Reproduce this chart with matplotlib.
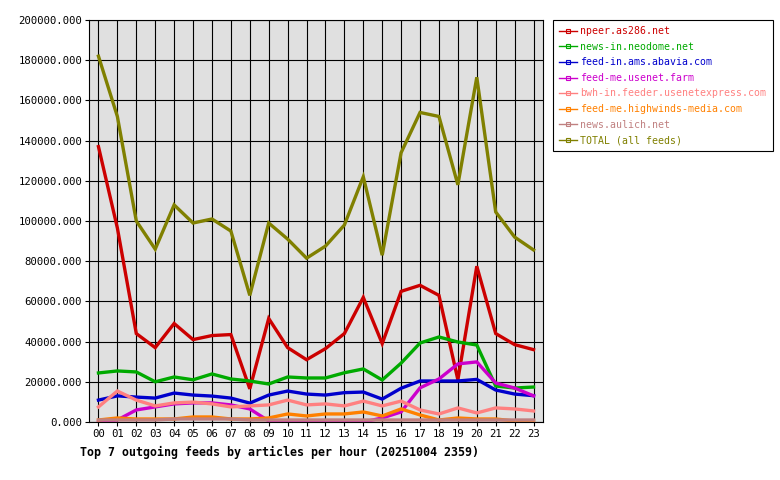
import matplotlib
matplotlib.use("Agg")
import matplotlib.pyplot as plt
import numpy as np

hours = ["%02d" % h for h in range(24)]

npeer = [137000, 96500, 44000, 37000, 49000, 41000, 43000, 43500, 16500, 51500, 37000, 31000,
         36500, 44000, 62000, 39000, 65000, 68000, 63000, 21000, 77500, 44000, 38500, 36000]
neodome = [24400, 25400, 24900, 20000, 22400, 21000, 23900, 21400, 20400, 18900, 22400, 21900,
           21900, 24500, 26400, 20900, 29300, 39300, 42300, 39800, 38300, 17900, 16900, 17400]
abavia = [10900, 13000, 12400, 11900, 14400, 13400, 12900, 11900, 9400, 13400, 15400, 13900,
          13400, 14600, 14900, 11400, 16800, 20400, 20400, 20400, 21200, 15900, 13900, 13100]
usenetfarm = [0, 1000, 6000, 7500, 9000, 9500, 9500, 8500, 6500, 500, 0, 0,
              0, 0, 0, 2000, 5000, 17000, 21400, 28900, 29900, 19400, 16900, 13000]
usenetexpress = [7500, 15400, 10900, 8000, 9500, 9900, 9000, 7500, 8000, 8500, 10900, 8500,
                 9000, 8000, 10400, 8000, 10400, 6000, 4000, 7000, 4500, 7000, 6500, 5500]
highwinds = [1000, 2000, 1500, 1500, 1500, 2500, 2500, 1500, 1500, 2000, 4000, 3000,
             4000, 4000, 5000, 3000, 6500, 3500, 1000, 2000, 1500, 1500, 500, 500]
aulich = [1000, 1000, 1000, 1000, 1500, 1500, 1500, 1500, 1000, 1000, 1000, 1000,
          1000, 1000, 1000, 1000, 1000, 1000, 1000, 1000, 1000, 1000, 1000, 1000]
total = [182000, 152000, 100000, 86000, 108000, 99000, 101000, 95000, 63000, 99000, 91000, 81500,
         87500, 98000, 122000, 83000, 134000, 154000, 152000, 118000, 171500, 104500, 92000, 85600]

series = [
    ("npeer.as286.net", npeer, "#cc0000"),
    ("news-in.neodome.net", neodome, "#00aa00"),
    ("feed-in.ams.abavia.com", abavia, "#0000cc"),
    ("feed-me.usenet.farm", usenetfarm, "#cc00cc"),
    ("bwh-in.feeder.usenetexpress.com", usenetexpress, "#ff8080"),
    ("feed-me.highwinds-media.com", highwinds, "#ff8000"),
    ("news.aulich.net", aulich, "#c08080"),
    ("TOTAL (all feeds)", total, "#808000"),
]

plt.rcParams["font.family"] = "DejaVu Sans Mono"

fig = plt.figure(figsize=(7.8, 4.8), dpi=100)
ax = fig.add_axes([89 / 780, 1 - 422 / 480, 454 / 780, 402 / 480])
ax.set_facecolor("#e0e0e0")

x = np.arange(24)
handles = []
for name, vals, col in series:
    ax.plot(x, vals, color=col, lw=2.4, solid_joinstyle="miter", zorder=3)
    h, = ax.plot([], [], color=col, lw=1.0, marker="s", ms=2.5, mfc="none", mec=col, mew=0.8)
    handles.append((h, name))

ax.set_xlim(-0.5, 23.5)
ax.set_ylim(0, 200000)
ax.set_xticks(x)
ax.set_xticklabels(hours, fontsize=7.7)
yt = np.arange(0, 200001, 20000)
ax.set_yticks(yt)
ax.set_yticklabels(["%d.000" % v for v in yt], fontsize=7.7)
ax.grid(True, color="black", lw=0.8, zorder=1)
ax.set_axisbelow(True)
ax.tick_params(length=3, width=0.8, color="black", pad=2)
for s in ax.spines.values():
    s.set_color("black")
    s.set_linewidth(0.8)

leg = fig.legend([h for h, _ in handles], [n for _, n in handles],
                 loc="upper left", bbox_to_anchor=(553 / 780, 1 - 20 / 480),
                 fontsize=7.1, frameon=True, fancybox=False, edgecolor="black",
                 framealpha=1, handlelength=1.8, handletextpad=0.3, borderpad=0.65,
                 labelspacing=0.56, borderaxespad=0, labelcolor="linecolor")
leg.get_frame().set_linewidth(0.8)

fig.text(80 / 780, 1 - 452 / 480, "Top 7 outgoing feeds by articles per hour (20251004 2359)",
         fontsize=8.4, fontweight="bold", ha="left", va="center")

fig.savefig("out.png", dpi=100, facecolor="white")
